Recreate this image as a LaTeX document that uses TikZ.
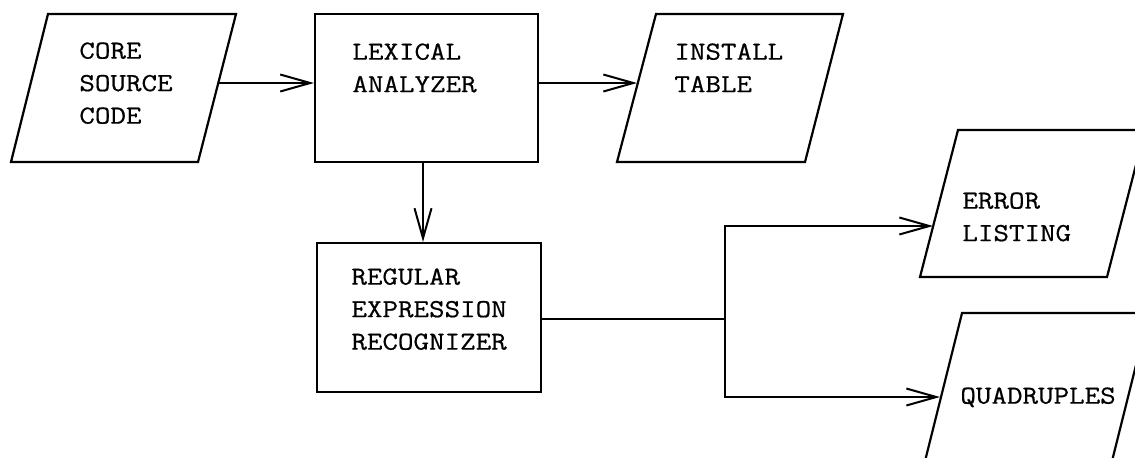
\documentclass[tikz,border=0pt]{standalone}
\usepackage{fontspec}
\setmonofont{Latin Modern Mono}[FakeStretch=1.16,FakeBold=0.6]
\usetikzlibrary{arrows.meta}
\begin{document}
\begin{tikzpicture}[x=0.5pt,y=-0.5pt,
  shapeline/.style={line width=1.1pt, line join=miter},
  box/.style={draw, line width=1.1pt, inner sep=0pt},
  lbl/.style={anchor=north west, inner sep=0pt, align=left,
    font=\ttfamily\fontsize{13pt}{16.25pt}\selectfont},
  conn/.style={line width=1.1pt},
  arr/.style={conn, -{Straight Barb[length=15pt,width=8.5pt,line width=1pt]}}]
\useasboundingbox (0,0) rectangle (1135,457);
\clip (0,0) rectangle (1135,457);

% input / output parallelograms
\draw[shapeline] (48,14) -- (236,14) -- (198,162) -- (11,162) -- cycle;
\draw[shapeline] (656,14) -- (843,14) -- (805,162) -- (617,162) -- cycle;
\draw[shapeline] (958,130) -- (1145,130) -- (1107,277) -- (920,277) -- cycle;
\draw[shapeline] (962,313) -- (1149,313) -- (1112,461) -- (925,461) -- cycle;

% process boxes
\node[box, minimum width=111.5pt, minimum height=74pt] (lex) at (426.5,88) {};
\node[box, minimum width=112pt, minimum height=74.5pt] (reg) at (429,317.5) {};

% texts
\node[lbl] (coretxt) at (79,42) {CORE\\SOURCE\\CODE};
\node[lbl] (lextxt) at (352,43) {LEXICAL\\ANALYZER};
\node[lbl] (insttxt) at (674,43) {INSTALL\\TABLE};
\node[lbl] (regtxt) at (351,268) {REGULAR\\EXPRESSION\\RECOGNIZER};
\node[lbl] (errtxt) at (962,192) {ERROR\\LISTING};
\node[lbl] (quadtxt) at (960,387) {QUADRUPLES};

% connector end points on the slanted edges
\coordinate (core-e) at (218.5,83);
\coordinate (inst-w) at (637,83);
\coordinate (err-w) at (933,226);
\coordinate (quad-w) at (940,397);
\coordinate (junc) at (725,319);

% connectors
\draw[arr] (core-e) -- (core-e -| lex.west);
\draw[arr] (lex.east |- inst-w) -- (inst-w);
\draw[arr] ([xshift=-1.75pt]lex.south) -- ([xshift=-1.75pt]lex.south |- reg.north);
\draw[conn] (reg.east |- junc) -- (junc);
\draw[arr] (junc) |- (err-w);
\draw[arr] (junc) |- (quad-w);
\end{tikzpicture}
\end{document}
